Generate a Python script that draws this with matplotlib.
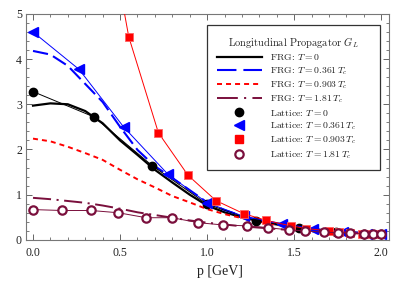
import matplotlib
matplotlib.use("Agg")
import matplotlib.pyplot as plt
from matplotlib.lines import Line2D
from matplotlib.ticker import MultipleLocator

plt.rcParams['font.family'] = ['Liberation Serif', 'DejaVu Serif']
plt.rcParams['mathtext.fontset'] = 'cm'
plt.rcParams['lines.scale_dashes'] = False

# ---------------- data ----------------
p_frg = [0.0, 0.1, 0.2, 0.3, 0.4, 0.5, 0.6, 0.7, 0.8, 0.9, 1.0,
         1.1, 1.2, 1.3, 1.4, 1.5, 1.6, 1.7, 1.8, 1.9, 2.0]
frg_T0 = [2.97, 3.02, 3.0, 2.85, 2.58, 2.2, 1.88, 1.55, 1.27, 1.0, 0.76,
          0.61, 0.5, 0.41, 0.34, 0.28, 0.24, 0.2, 0.17, 0.15, 0.13]
frg_T036 = [4.18, 4.1, 3.85, 3.45, 3.05, 2.5, 1.99, 1.63, 1.37, 1.1, 0.83,
            0.66, 0.53, 0.43, 0.35, 0.29, 0.24, 0.2, 0.17, 0.15, 0.13]
frg_T090 = [2.24, 2.18, 2.06, 1.92, 1.77, 1.55, 1.34, 1.16, 0.97, 0.83, 0.68,
            0.57, 0.48, 0.4, 0.33, 0.28, 0.23, 0.2, 0.17, 0.15, 0.13]
frg_T181 = [0.93, 0.9, 0.86, 0.82, 0.76, 0.69, 0.61, 0.55, 0.49, 0.43, 0.38,
            0.34, 0.3, 0.27, 0.24, 0.21, 0.19, 0.17, 0.15, 0.14, 0.13]

lat_T0_p = [0.0, 0.35, 0.685, 1.0, 1.28, 1.53, 1.74, 1.9, 2.0]
lat_T0_G = [3.28, 2.72, 1.64, 0.79, 0.42, 0.27, 0.17, 0.13, 0.12]

lat_T036_p = [0.0, 0.265, 0.52, 0.775, 1.0, 1.21, 1.43, 1.61, 1.78, 1.92, 2.0]
lat_T036_G = [4.6, 3.77, 2.5, 1.45, 0.82, 0.52, 0.36, 0.25, 0.18, 0.14, 0.13]

lat_T090_p = [0.36, 0.55, 0.72, 0.89, 1.05, 1.21, 1.34, 1.48, 1.57, 1.7,
              1.76, 1.82, 1.89, 1.94, 1.99]
lat_T090_G = [8.5, 4.49, 2.37, 1.43, 0.87, 0.58, 0.43, 0.31, 0.25, 0.2,
              0.18, 0.16, 0.14, 0.13, 0.12]

lat_T181_p = [0.0, 0.167, 0.333, 0.49, 0.65, 0.8, 0.95, 1.09, 1.23, 1.35,
              1.47, 1.56, 1.67, 1.75, 1.82, 1.9, 1.95, 2.0]
lat_T181_G = [0.67, 0.65, 0.65, 0.6, 0.49, 0.49, 0.38, 0.33, 0.31, 0.27,
              0.22, 0.2, 0.17, 0.16, 0.15, 0.14, 0.13, 0.12]

labels_frg = ['FRG: $T = 0$', 'FRG: $T = 0.361\\,T_c$',
              'FRG: $T = 0.903\\,T_c$', 'FRG: $T = 1.81\\,T_c$']
labels_lat = ['Lattice: $T = 0$', 'Lattice: $T = 0.361\\,T_c$',
              'Lattice: $T = 0.903\\,T_c$', 'Lattice: $T = 1.81\\,T_c$']
legend_title = 'Longitudinal Propagator $G_L$'

# ---------------- styles ----------------
c_black = 'black'
c_blue = '#0000ff'
c_red = '#ff0000'
c_maroon = '#7a0f3c'

ls_T0 = '-'
ls_T036 = (0, (11, 4))
ls_T090 = (0, (3.6, 2.9))
ls_T181 = (0, (13, 4, 1.5, 4))

fig = plt.figure(figsize=(4.07, 2.89), dpi=100)
ax = fig.add_axes([0.064, 0.170, 0.892, 0.782])

ax.plot(p_frg, frg_T0, color=c_black, lw=1.6, ls=ls_T0, zorder=3)
ax.plot(p_frg, frg_T036, color=c_blue, lw=1.5, ls=ls_T036, zorder=3)
ax.plot(p_frg, frg_T090, color=c_red, lw=1.4, ls=ls_T090, zorder=3)
ax.plot(p_frg, frg_T181, color=c_maroon, lw=1.4, ls=ls_T181, zorder=3)

ax.plot(lat_T0_p, lat_T0_G, color=c_black, lw=0.7, marker='o', ms=6,
        mfc=c_black, mec=c_black, zorder=4)
ax.plot(lat_T036_p, lat_T036_G, color=c_blue, lw=0.7, marker='<', ms=7,
        mfc=c_blue, mec=c_blue, zorder=4)
ax.plot(lat_T090_p, lat_T090_G, color=c_red, lw=0.7, marker='s', ms=6,
        mfc=c_red, mec='#ff6060', mew=0.6, zorder=4)
ax.plot(lat_T181_p, lat_T181_G, color=c_maroon, lw=0.7, marker='o', ms=6,
        mfc='white', mec=c_maroon, mew=1.6, zorder=5)

ax.set_xlim(-0.04, 2.045)
ax.set_ylim(0, 5)
ax.xaxis.set_major_locator(MultipleLocator(0.5))
ax.xaxis.set_minor_locator(MultipleLocator(0.1))
ax.yaxis.set_major_locator(MultipleLocator(1))
ax.yaxis.set_minor_locator(MultipleLocator(0.2))
ax.xaxis.set_major_formatter(matplotlib.ticker.FormatStrFormatter('%.1f'))
ax.tick_params(which='both', direction='in', top=True, right=True,
               colors='#666666', labelcolor='#222222', labelsize=8.5)
ax.tick_params(which='major', length=4, width=0.7)
ax.tick_params(which='minor', length=2.2, width=0.6)
ax.tick_params(axis='x', pad=5)
ax.tick_params(axis='y', pad=3)
for s in ax.spines.values():
    s.set_color('#777777')
    s.set_linewidth(0.8)

ax.set_xlabel('p [GeV]', fontsize=10, color='#222222')
ax.xaxis.set_label_coords(0.535, -0.142)
ax.xaxis.label.set_va('center')

handles = [
    Line2D([], [], color=c_black, lw=1.6, ls=ls_T0),
    Line2D([], [], color=c_blue, lw=1.5, ls=(0, (14, 5))),
    Line2D([], [], color=c_red, lw=1.4, ls=ls_T090),
    Line2D([], [], color=c_maroon, lw=1.4, ls=(0, (15, 4.5, 1.5, 4.5))),
    Line2D([], [], ls='none', marker='o', ms=6, color=c_black),
    Line2D([], [], ls='none', marker='<', ms=7, color=c_blue),
    Line2D([], [], ls='none', marker='s', ms=6, color=c_red),
    Line2D([], [], ls='none', marker='o', ms=6, mfc='white', mec=c_maroon, mew=1.6),
]
leg = ax.legend(handles, labels_frg + labels_lat, title=legend_title,
                loc='upper left', bbox_to_anchor=(0.499, 0.951, 0.476, 0.0),
                mode='expand', title_fontsize=7.5,
                prop={'family': 'cmr10', 'size': 7},
                frameon=True, fancybox=False, edgecolor='#333333',
                framealpha=1, handlelength=4.6, handletextpad=0.9,
                labelspacing=0.27, borderpad=1.0, borderaxespad=0)
leg.get_frame().set_linewidth(0.9)
leg.get_title().set_family('cmr10')
leg.get_title().set_color('#222222')
for t in leg.get_texts():
    t.set_color('#222222')
leg.set_zorder(10)

fig.savefig('out.png', dpi=100)
